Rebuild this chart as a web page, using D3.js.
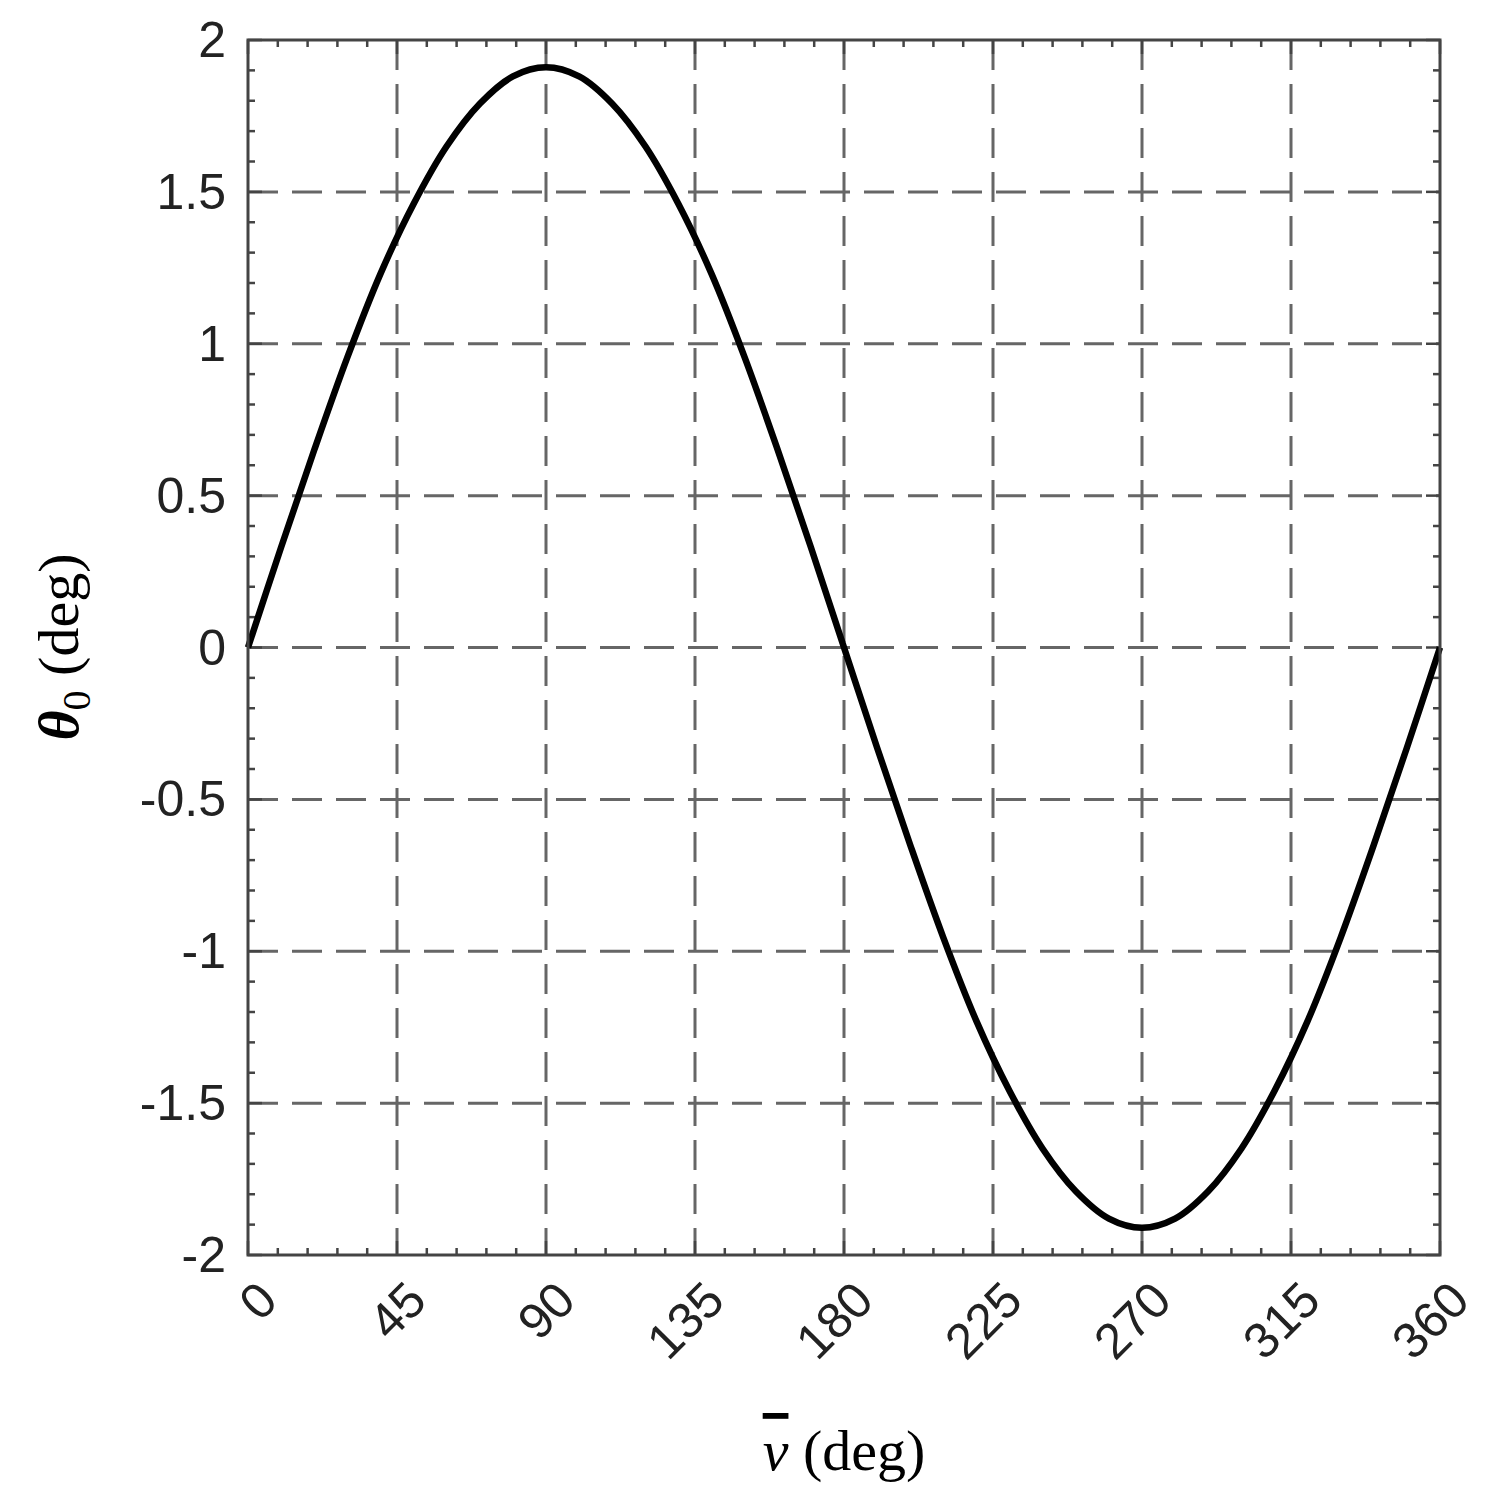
<!DOCTYPE html>
<html><head><meta charset="utf-8">
<script src="https://cdn.jsdelivr.net/npm/d3@7"></script>
<style>body{margin:0;background:#fff}</style></head>
<body><svg id="c" width="1488" height="1499"></svg>
<script>
const nuDeg = [0,10,20,30,40,50,60,70,80,90,100,110,120,130,140,150,160,170,180,190,200,210,220,230,240,250,260,270,280,290,300,310,320,330,340,350,360];
const theta0 = [0,0.33,0.65,0.955,1.23,1.46,1.65,1.79,1.88,1.91,1.88,1.79,1.65,1.46,1.23,0.955,0.65,0.33,0,-0.33,-0.65,-0.955,-1.23,-1.46,-1.65,-1.79,-1.88,-1.91,-1.88,-1.79,-1.65,-1.46,-1.23,-0.955,-0.65,-0.33,0];
const xTicks = [0,45,90,135,180,225,270,315,360];
const yTicks = [-2,-1.5,-1,-0.5,0,0.5,1,1.5,2];
const yTickLabels = ["-2","-1.5","-1","-0.5","0","0.5","1","1.5","2"];

const L=248,R=1440,T=40,B=1255;
const svg=d3.select("#c");
const x=d3.scaleLinear().domain([0,360]).range([L,R]);
const y=d3.scaleLinear().domain([-2,2]).range([B,T]);
const font="Liberation Sans, Arial, sans-serif";
svg.selectAll(".gx").data(xTicks.slice(1,-1)).enter().append("line")
 .attr("x1",d=>x(d)).attr("x2",d=>x(d)).attr("y1",T).attr("y2",B)
 .attr("stroke","#666").attr("stroke-width",3).attr("stroke-dasharray","30,14");
svg.selectAll(".gy").data(yTicks.slice(1,-1)).enter().append("line")
 .attr("y1",d=>y(d)).attr("y2",d=>y(d)).attr("x1",L).attr("x2",R)
 .attr("stroke","#666").attr("stroke-width",3).attr("stroke-dasharray","30,14");
const xm=d3.range(0,361,9), ym=d3.range(-20,21).map(v=>v/10);
const tk=svg.append("g").attr("stroke","#444").attr("stroke-width",2.5);
xm.forEach(v=>{const len=xTicks.includes(v)?14:7;
 tk.append("line").attr("x1",x(v)).attr("x2",x(v)).attr("y1",B).attr("y2",B-len);
 tk.append("line").attr("x1",x(v)).attr("x2",x(v)).attr("y1",T).attr("y2",T+len);});
ym.forEach(v=>{const len=(Math.abs(v*2-Math.round(v*2))<1e-6)?14:7;
 tk.append("line").attr("y1",y(v)).attr("y2",y(v)).attr("x1",L).attr("x2",L+len);
 tk.append("line").attr("y1",y(v)).attr("y2",y(v)).attr("x1",R).attr("x2",R-len);});
svg.append("path").datum(nuDeg.map((d,i)=>[d,theta0[i]]))
 .attr("d",d3.line().x(d=>x(d[0])).y(d=>y(d[1])).curve(d3.curveCatmullRom))
 .attr("fill","none").attr("stroke","#000").attr("stroke-width",6.5);
svg.append("rect").attr("x",L).attr("y",T).attr("width",R-L).attr("height",B-T)
 .attr("fill","none").attr("stroke","#444").attr("stroke-width",3);
svg.selectAll(".yl").data(yTicks).enter().append("text")
 .attr("x",L-22).attr("y",d=>y(d)+17).attr("text-anchor","end")
 .attr("font-family",font).attr("font-size",50).attr("fill","#222")
 .text((d,i)=>yTickLabels[i]);
svg.selectAll(".xl").data(xTicks).enter().append("text")
 .attr("transform",d=>`translate(${x(d)+32},${B+48}) rotate(-45)`)
 .attr("text-anchor","end").attr("font-family",font).attr("font-size",50).attr("fill","#222")
 .text(d=>d);
const xl=svg.append("text").attr("x",844).attr("y",1470).attr("text-anchor","middle")
 .attr("font-family","Liberation Serif, serif").attr("font-size",58);
xl.append("tspan").attr("font-style","italic").attr("text-decoration","overline").text("ν");
xl.append("tspan").text(" (deg)");
const yl=svg.append("text").attr("transform","translate(78,647) rotate(-90)").attr("text-anchor","middle")
 .attr("font-family","Liberation Serif, serif").attr("font-size",58);
yl.append("tspan").attr("font-style","italic").attr("font-weight","bold").text("θ");
yl.append("tspan").attr("font-size",40).attr("dy",12).text("0");
yl.append("tspan").attr("dy",-12).text(" (deg)");
</script></body></html>
